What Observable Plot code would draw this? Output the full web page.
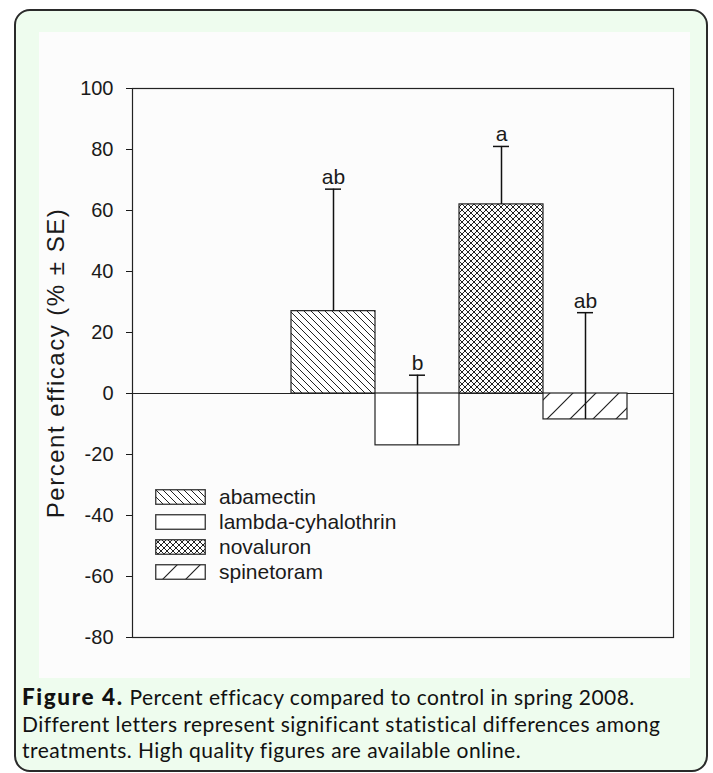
<!DOCTYPE html>
<html>
<head>
<meta charset="utf-8">
<script src="https://cdn.jsdelivr.net/npm/d3@7"></script>
<script src="https://cdn.jsdelivr.net/npm/@observablehq/plot@0.6"></script>
<style>
  html, body { margin: 0; padding: 0; background: #ffffff; }
  body { width: 713px; height: 773px; position: relative; overflow: hidden; }
  #frame { position: absolute; left: 14px; top: 9px; width: 694px; height: 763px; box-sizing: border-box;
           border: 2px solid #2a2a2a; border-radius: 16px; background: #eefcee; }
  #panel { position: absolute; left: 39px; top: 32px; width: 651px; height: 646px; background: #fcfcfc; }
  #chart { position: absolute; left: 0; top: 0; }
  #legend { position: absolute; left: 155px; top: 485px; font-family: "Liberation Sans", Arial, sans-serif;
            font-size: 21px; color: #1a1a1a; }
  .row { height: 24.8px; display: flex; align-items: center; }
  .row svg { display: block; margin-right: 13px; }
  #caption { position: absolute; left: 22px; top: 684px; font-family: Lato, "Open Sans", sans-serif;
             font-size: 21px; letter-spacing: 0.45px; line-height: 26.5px; color: #111; white-space: nowrap; }
  #caption b { font-size: 22.5px; letter-spacing: 1.6px; font-weight: 900; }
</style>
</head>
<body>
<svg width="0" height="0" style="position:absolute">
  <defs>
    <pattern id="hatch-back" patternUnits="userSpaceOnUse" width="7" height="7">
      <rect width="7" height="7" fill="#ffffff"/>
      <path d="M0,0 L7,7 M-1,6 L1,8 M6,-1 L8,1" stroke="#222" stroke-width="1"/>
    </pattern>
    <pattern id="hatch-cross" patternUnits="userSpaceOnUse" width="6" height="6">
      <rect width="6" height="6" fill="#ffffff"/>
      <path d="M0,0 L6,6 M-1,5 L1,7 M5,-1 L7,1 M0,6 L6,0 M-1,1 L1,-1 M5,7 L7,5" stroke="#222" stroke-width="1"/>
    </pattern>
    <pattern id="hatch-fwd" patternUnits="userSpaceOnUse" width="23" height="23">
      <rect width="23" height="23" fill="#ffffff"/>
      <path d="M0,23 L23,0 M-1,1 L1,-1 M22,24 L24,22" stroke="#222" stroke-width="1.2"/>
    </pattern>
  </defs>
</svg>
<div id="frame"></div>
<div id="panel"></div>
<div id="chart"></div>
<div id="legend"></div>
<div id="caption"><b>Figure 4.</b> Percent efficacy compared to control in spring 2008.<br>Different letters represent significant statistical differences among<br>treatments. High quality figures are available online.</div>
<script>
// ---- data ----
const treatments = ["abamectin", "lambda-cyhalothrin", "novaluron", "spinetoram"];
const efficacy = [27, -17, 62, -8.5];
const stdErr = [40, 23, 19, 35];
const letters = ["ab", "b", "a", "ab"];
const yTicks = [-80, -60, -40, -20, 0, 20, 40, 60, 80, 100];
const yLabel = "Percent efficacy (% \u00B1 SE)";

// ---- styling (not data) ----
const fillFor = {
  "abamectin": "url(#hatch-back)",
  "lambda-cyhalothrin": "#ffffff",
  "novaluron": "url(#hatch-cross)",
  "spinetoram": "url(#hatch-fwd)"
};

const data = treatments.map((t, i) => ({
  treatment: t, value: efficacy[i], se: stdErr[i], letter: letters[i], top: efficacy[i] + stdErr[i], fill: fillFor[t]
}));

const chart = Plot.plot({
  width: 713, height: 680,
  marginTop: 88, marginBottom: 43, marginLeft: 132, marginRight: 40,
  style: { background: "transparent", fontFamily: "'Liberation Sans', Arial, sans-serif", fontSize: "20px", color: "#1a1a1a", overflow: "visible" },
  x: { domain: treatments, range: [290, 627], padding: 0, axis: null },
  y: { domain: [-80, 100], ticks: yTicks, tickFormat: d => String(d), tickSize: 6, tickPadding: 13,
       label: yLabel, labelAnchor: "center", labelOffset: 86 },
  color: { type: "identity" },
  marks: [
    Plot.frame({ stroke: "#222", strokeWidth: 1.2 }),
    Plot.ruleY([0], { stroke: "#222", strokeWidth: 1.2 }),
    Plot.barY(data, { x: "treatment", y: "value", fill: "fill", stroke: "#222", strokeWidth: 1.2 }),
    Plot.ruleX(data, { x: "treatment", y1: "value", y2: "top", stroke: "#111", strokeWidth: 1.5 }),
    Plot.tickY(data, { x: "treatment", y: "top", insetLeft: 34, insetRight: 34, stroke: "#111", strokeWidth: 1.5 }),
    Plot.text(data, { x: "treatment", y: "top", text: "letter", lineAnchor: "bottom", dy: -5, fontSize: 21, fill: "#1a1a1a" })
  ]
});
document.getElementById("chart").appendChild(chart);
// y label: plain text (no arrow), larger type
const lab = chart.querySelector('g[aria-label="y-axis label"] text');
if (lab) { lab.textContent = yLabel; lab.setAttribute("font-size", "24"); lab.style.fontSize = "24px"; lab.style.letterSpacing = "1.5px"; }

// legend from the data arrays
const legend = document.getElementById("legend");
treatments.forEach(t => {
  const row = document.createElement("div");
  row.className = "row";
  row.innerHTML = `<svg width="51" height="16"><rect x="0.75" y="0.75" width="49.5" height="14.5" fill="${fillFor[t]}" stroke="#333" stroke-width="1.3"/></svg><span>${t}</span>`;
  legend.appendChild(row);
});
</script>
</body>
</html>
